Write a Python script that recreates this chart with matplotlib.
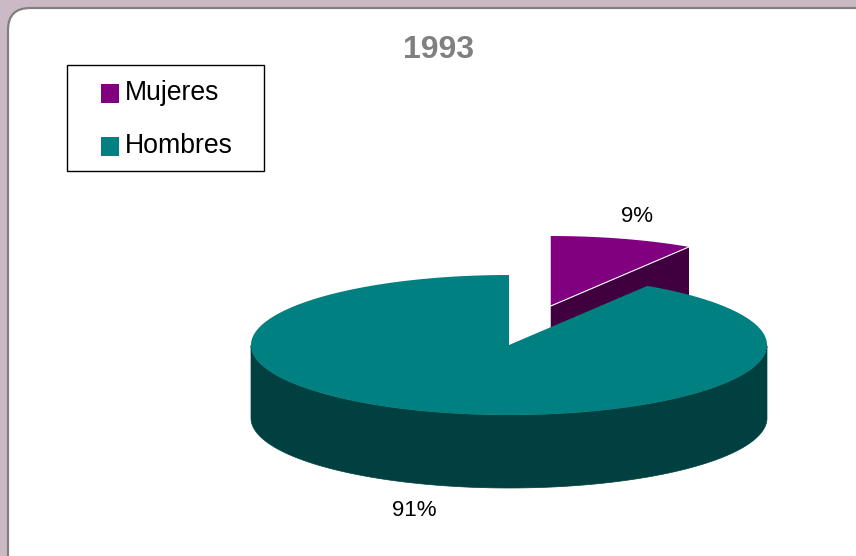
import numpy as np
import matplotlib
matplotlib.use("Agg")
import matplotlib.pyplot as plt
from matplotlib.patches import Polygon, Rectangle, FancyBboxPatch

plt.rcParams['font.family'] = ['Liberation Sans', 'DejaVu Sans']

# ---- data ----
title = "1993"
categories = ["Mujeres", "Hombres"]
values = [9, 91]
pct_labels = ["9%", "91%"]
top_colors = ["#800080", "#008080"]
side_colors = ["#400040", "#004040"]
explode = [0.58, 0.0]

# ---- figure ----
W, H = 856, 556
fig = plt.figure(figsize=(W / 100, H / 100), dpi=100)
fig.patch.set_facecolor("#CBBAC6")
ax = fig.add_axes([0, 0, 1, 1])
ax.set_xlim(0, W)
ax.set_ylim(H, 0)
ax.axis("off")

# white panel
panel = FancyBboxPatch((8, 8), 900, 600, boxstyle="round,pad=0,rounding_size=22",
                       facecolor="white", edgecolor="#808080", linewidth=1.6, zorder=0)
ax.add_patch(panel)

# ---- 3D pie geometry ----
cx, cy, rx, ry, depth = 509, 345, 258, 70, 73
start = 90.0
total = float(sum(values))

def pt(a, ox, oy, dz=0.0):
    r = np.radians(a)
    return cx + ox + rx * np.cos(r), cy + oy - ry * np.sin(r) + dz

slices = []
a = start
for i, v in enumerate(values):
    span = 360.0 * v / total
    a1, a2 = a, a - span  # clockwise
    mid = (a1 + a2) / 2
    e = explode[i]
    ox = e * rx * np.cos(np.radians(mid))
    oy = -e * ry * np.sin(np.radians(mid))
    slices.append(dict(i=i, a1=a1, a2=a2, mid=mid, ox=ox, oy=oy))
    a = a2

# back slices first
slices.sort(key=lambda s: -np.sin(np.radians(s["mid"])))

for s in slices:
    i, a1, a2, ox, oy = s["i"], s["a1"], s["a2"], s["ox"], s["oy"]
    z = 2 + slices.index(s) * 3
    center = (cx + ox, cy + oy)
    # radial faces
    for ang, nrm in ((a1, a1 + 90), (a2, a2 - 90)):
        if np.sin(np.radians(nrm)) < -1e-6:
            p = pt(ang, ox, oy)
            face = [center, p, (p[0], p[1] + depth), (center[0], center[1] + depth)]
            ax.add_patch(Polygon(face, closed=True, facecolor=side_colors[i],
                                 edgecolor="none", zorder=z))
    # outer wall (front half only)
    angs = np.linspace(a2, a1, 400)
    front = angs[np.sin(np.radians(angs)) <= 0]
    if front.size:
        runs = np.split(front, np.where(np.diff(front) > 1.0)[0] + 1)
        for run in runs:
            top_pts = [pt(t, ox, oy) for t in run]
            bot_pts = [pt(t, ox, oy, depth) for t in run[::-1]]
            ax.add_patch(Polygon(top_pts + bot_pts, closed=True,
                                 facecolor=side_colors[i], edgecolor=side_colors[i],
                                 linewidth=0.5, zorder=z + 0.5))
    # top face
    arc = [pt(t, ox, oy) for t in np.linspace(a1, a2, 400)]
    ax.add_patch(Polygon([center] + arc, closed=True, facecolor=top_colors[i],
                         edgecolor="none", zorder=z + 1))
    if explode[i] > 0:
        p = pt(a2, ox, oy)
        ax.plot([center[0], p[0]], [center[1], p[1]], color="white", lw=0.8, zorder=z + 1.5)

# ---- percentage labels ----
label_pos = [(637, 217), (414, 510)]
label_size = [16, 16]
for txt, (lx, ly), fs in zip(pct_labels, label_pos, label_size):
    ax.text(lx, ly, txt, ha="center", va="center", fontsize=fs, color="black", zorder=20)

# ---- title ----
ax.text(439, 50, title, ha="center", va="center", fontsize=23, fontweight="bold",
        color="#808080", zorder=20)

# ---- legend ----
ax.add_patch(Rectangle((67, 65), 197, 106, facecolor="white", edgecolor="black",
                       linewidth=1.0, zorder=20))
for k, (name, col) in enumerate(zip(categories, top_colors)):
    yc = 93 + k * 53
    ax.add_patch(Rectangle((101, yc - 9.5), 18, 19, facecolor=col, edgecolor="none", zorder=21))
    ax.text(125, yc, name, ha="left", va="center", fontsize=19.2, color="black", zorder=21)

fig.savefig("out.png", dpi=100, facecolor=fig.get_facecolor())
